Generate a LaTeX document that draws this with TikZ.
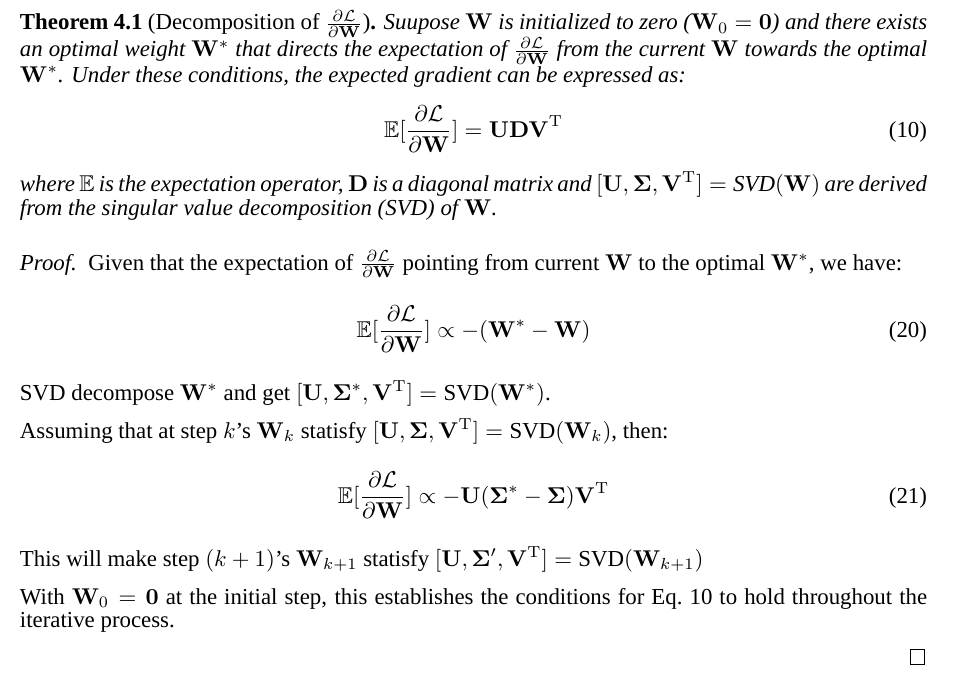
\documentclass[tikz,border=0pt]{standalone}
\usepackage{amsmath,amssymb}
\usepackage[no-math]{fontspec}
\setmainfont{Liberation Serif}
\newlength\tw \setlength\tw{397pt}
\newcommand\dLdW{\frac{\partial\mathcal{L}}{\partial\mathbf{W}}}
\begin{document}
\begin{tikzpicture}[x=0.43764pt,y=-0.43764pt,
  txtline/.style={anchor=base west,inner sep=0pt,outer sep=0pt},
  eqn/.style={anchor=base,inner sep=0pt,outer sep=0pt},
  eqnum/.style={anchor=base east,inner sep=0pt,outer sep=0pt},
  qedbox/.style={draw,line width=0.45pt,inner sep=0pt,minimum width=6.4pt,minimum height=6.4pt}]
\useasboundingbox (0,0) rectangle (963,673);
% Theorem
\node[txtline] (t1) at (20,30) {\hbox to\tw{\textbf{Theorem 4.1} (Decomposition of $\dLdW$)\textbf{.} \textit{Suupose $\mathbf{W}$ is initialized to zero ($\mathbf{W}_0=\mathbf{0}$) and there exists}}};
\node[txtline] (t2) at (20,57) {\hbox to\tw{\itshape an optimal weight $\mathbf{W}^*$ that directs the expectation of $\dLdW$ from the current $\mathbf{W}$ towards the optimal}};
\node[txtline] (t3) at (20,82) {\itshape $\mathbf{W}^*$. Under these conditions, the expected gradient can be expressed as:};
\node[eqn] (e10) at (473.5,137) {$\displaystyle\mathbb{E}[\dLdW]=\mathbf{UDV}^{\mathrm{T}}$};
\node[eqnum] (n10) at (927,137) {(10)};
\node[txtline] (t4) at (20,191) {\hbox to\tw{\itshape where $\mathbb{E}$ is the expectation operator, $\mathbf{D}$ is a diagonal matrix and $[\mathbf{U},\mathbf{\Sigma},\mathbf{V}^{\mathrm{T}}]=\text{SVD}(\mathbf{W})$ are derived}};
\node[txtline] (t5) at (20,215) {\itshape from the singular value decomposition (SVD) of $\mathbf{W}$.};
% Proof
\node[txtline] (p1) at (20,270) {\textit{Proof.}\enspace Given that the expectation of $\dLdW$ pointing from current $\mathbf{W}$ to the optimal $\mathbf{W}^*$, we have:};
\node[eqn] (e20) at (473.5,337) {$\displaystyle\mathbb{E}[\dLdW]\propto-(\mathbf{W}^*-\mathbf{W})$};
\node[eqnum] (n20) at (927,337) {(20)};
\node[txtline] (p2) at (20,400) {SVD decompose $\mathbf{W}^*$ and get $[\mathbf{U},\mathbf{\Sigma}^*,\mathbf{V}^{\mathrm{T}}]=\text{SVD}(\mathbf{W}^*)$.};
\node[txtline] (p3) at (20,438) {Assuming that at step $k$'s $\mathbf{W}_k$ statisfy $[\mathbf{U},\mathbf{\Sigma},\mathbf{V}^{\mathrm{T}}]=\text{SVD}(\mathbf{W}_k)$, then:};
\node[eqn] (e21) at (473.5,503) {$\displaystyle\mathbb{E}[\dLdW]\propto-\mathbf{U}(\mathbf{\Sigma}^*-\mathbf{\Sigma})\mathbf{V}^{\mathrm{T}}$};
\node[eqnum] (n21) at (927,503) {(21)};
\node[txtline] (p4) at (20,566) {This will make step $(k+1)$'s $\mathbf{W}_{k+1}$ statisfy $[\mathbf{U},\mathbf{\Sigma}',\mathbf{V}^{\mathrm{T}}]=\text{SVD}(\mathbf{W}_{k+1})$};
\node[txtline] (p5) at (20,604) {\hbox to\tw{With $\mathbf{W}_0=\mathbf{0}$ at the initial step, this establishes the conditions for Eq.~10 to hold throughout the}};
\node[txtline] (p6) at (20,627) {iterative process.};
\node[qedbox] (qed) at (917.5,657) {};
\end{tikzpicture}
\end{document}
